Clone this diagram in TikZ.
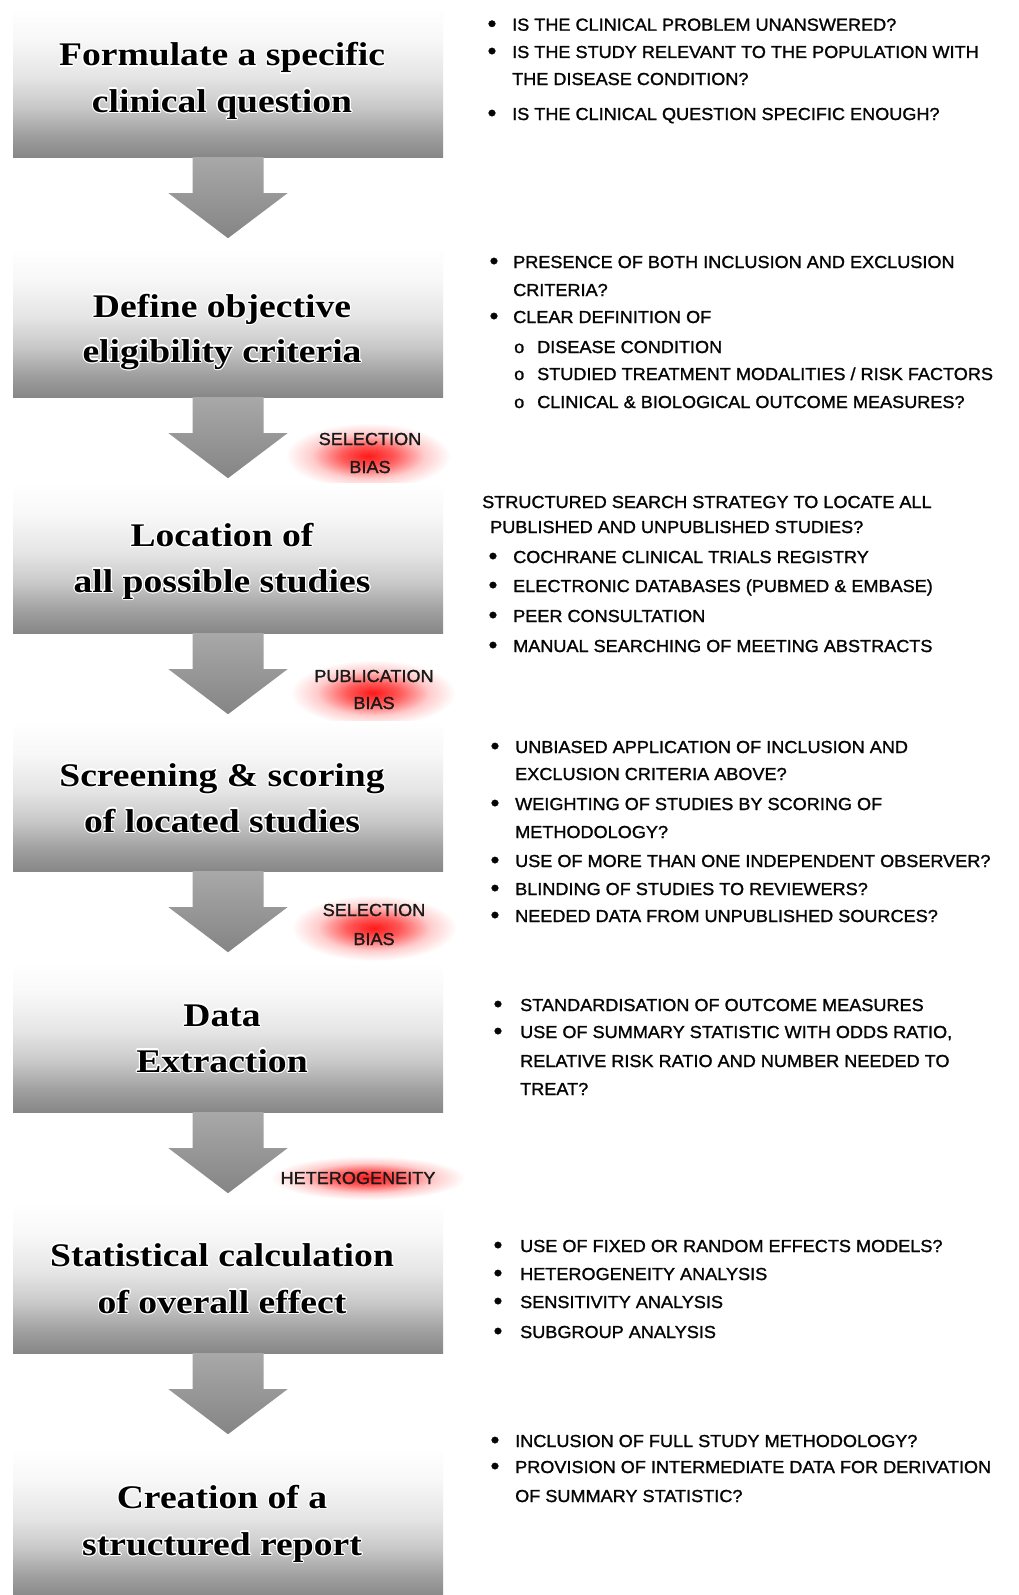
\documentclass[tikz,border=0pt]{standalone}
\usepackage{fontspec}
\usepackage{contour}
\usetikzlibrary{calc,shapes.geometric}
\newfontfamily\titlefont[FakeStretch=1.14]{Liberation Serif}
\newfontfamily\notefont[FakeStretch=1.04,FakeBold=1.3]{Liberation Sans}
\contourlength{1.1pt}
\contournumber{16}
\definecolor{bx0}{gray}{0.53}
\definecolor{bx1}{gray}{0.62}
\definecolor{bx2}{gray}{0.79}
\definecolor{bx3}{gray}{0.90}
\definecolor{bx4}{gray}{0.97}
\definecolor{bx5}{gray}{1.0}
\definecolor{ar1}{gray}{0.66}
\definecolor{ar2}{gray}{0.52}
\definecolor{gl0}{rgb}{1,0.1,0.1}
\definecolor{gl1}{rgb}{1,0.35,0.35}
\definecolor{gl2}{rgb}{1,0.8,0.8}
\definecolor{notecol}{gray}{0.02}
\pgfdeclareverticalshading{boxshade}{100bp}{color(0bp)=(bx0); color(25bp)=(bx0); color(32bp)=(bx1); color(42bp)=(bx2); color(52bp)=(bx3); color(64bp)=(bx4); color(75bp)=(bx5); color(100bp)=(bx5)}
\pgfdeclareradialshading{glowshade}{\pgfpoint{0bp}{0bp}}{color(0bp)=(gl0); color(8bp)=(gl1); color(17bp)=(gl2); color(25bp)=(white); color(50bp)=(white)}
\tikzset{
  box/.style={rectangle, shade, shading=boxshade, minimum width=430pt, minimum height=150pt, inner sep=0pt, draw=none},
  title/.style={font=\titlefont\bfseries\fontsize{33}{40}\selectfont, anchor=base, inner sep=0pt, text=black},
  note/.style={font=\notefont\fontsize{17.4}{20}\selectfont, anchor=base west, inner sep=0pt, text=notecol},
  bul/.style={font=\notefont\fontsize{24}{20}\selectfont, anchor=base, inner sep=0pt, text=notecol, yshift=-1pt},
  bias/.style={font=\notefont\fontsize{17.4}{20}\selectfont, anchor=base, inner sep=0pt, text=black!90},
  glow/.style={ellipse, shade, shading=glowshade, inner sep=0pt, draw=none},
  barrow/.style={top color=ar1, bottom color=ar2, draw=none}
}
\newcommand\blockarrow[1]{%
  \shade[barrow] ($(#1.south)+(-35.5,0)$) -- ($(#1.south)+(35.5,0)$) -- ($(#1.south)+(35.5,36)$) -- ($(#1.south)+(59.5,36)$) -- ($(#1.south)+(0,81)$) -- ($(#1.south)+(-59.5,36)$) -- ($(#1.south)+(-35.5,36)$) -- cycle;}
\begin{document}
\begin{tikzpicture}[x=1pt,y=-1pt]
\fill[white] (0,0) rectangle (1019,1595);
\useasboundingbox (0,0) rectangle (1019,1595);
% glows
\node[glow, minimum width=165pt, minimum height=66pt] (g1) at (368,456) {};
\node[glow, minimum width=165pt, minimum height=66pt] (g2) at (373,693) {};
\node[glow, minimum width=165pt, minimum height=66pt] (g3) at (374,928) {};
\node[glow, minimum width=195pt, minimum height=44pt] (g4) at (368,1178) {};
% boxes
\node[box] (b1) at (228,82) {};
\node[box] (b2) at (228,322) {};
\node[box] (b3) at (228,558) {};
\node[box] (b4) at (228,796) {};
\node[box] (b5) at (228,1037) {};
\node[box] (b6) at (228,1278) {};
\node[box] (b7) at (228,1523) {};
% arrows
\blockarrow{b1}
\blockarrow{b2}
\blockarrow{b3}
\blockarrow{b4}
\blockarrow{b5}
\blockarrow{b6}
% titles
\node[title] (t1a) at (222,66) {\contour{white}{Formulate a specific}};
\node[title] (t1b) at (222,112) {\contour{white}{clinical question}};
\node[title] (t2a) at (222,317) {\contour{white}{Define objective}};
\node[title] (t2b) at (222,362) {\contour{white}{eligibility criteria}};
\node[title] (t3a) at (222,546) {\contour{white}{Location of}};
\node[title] (t3b) at (222,592) {\contour{white}{all possible studies}};
\node[title] (t4a) at (222,786) {\contour{white}{Screening \& scoring}};
\node[title] (t4b) at (222,832) {\contour{white}{of located studies}};
\node[title] (t5a) at (222,1026) {\contour{white}{Data}};
\node[title] (t5b) at (222,1072) {\contour{white}{Extraction}};
\node[title] (t6a) at (222,1266) {\contour{white}{Statistical calculation}};
\node[title] (t6b) at (222,1313) {\contour{white}{of overall effect}};
\node[title] (t7a) at (222,1508) {\contour{white}{Creation of a}};
\node[title] (t7b) at (222,1555) {\contour{white}{structured report}};
% bias labels
\node[bias] (l1a) at (370,445) {SELECTION};
\node[bias] (l1b) at (370,473) {BIAS};
\node[bias] (l2a) at (374,682) {PUBLICATION};
\node[bias] (l2b) at (374,709) {BIAS};
\node[bias] (l3a) at (374,916) {SELECTION};
\node[bias] (l3b) at (374,945) {BIAS};
\node[bias] (l4a) at (358,1184) {HETEROGENEITY};
% section 1
\node[bul] (s1u1) at (492,30.7) {•};
\node[note] (s1n1) at (512,30.7) {IS THE CLINICAL PROBLEM UNANSWERED?};
\node[bul] (s1u2) at (492,58) {•};
\node[note] (s1n2) at (512,58) {IS THE STUDY RELEVANT TO THE POPULATION WITH};
\node[note] (s1n3) at (512,85) {THE DISEASE CONDITION?};
\node[bul] (s1u4) at (492,120) {•};
\node[note] (s1n4) at (512,120) {IS THE CLINICAL QUESTION SPECIFIC ENOUGH?};
% section 2
\node[bul] (s2u1) at (494,268) {•};
\node[note] (s2n1) at (513,268) {PRESENCE OF BOTH INCLUSION AND EXCLUSION};
\node[note] (s2n2) at (513,296) {CRITERIA?};
\node[bul] (s2u3) at (494,323) {•};
\node[note] (s2n3) at (513,323) {CLEAR DEFINITION OF};
\node[note] (s2o4) at (514,353) {o};
\node[note] (s2n4) at (537,353) {DISEASE CONDITION};
\node[note] (s2o5) at (514,380) {o};
\node[note] (s2n5) at (537,380) {STUDIED TREATMENT MODALITIES / RISK FACTORS};
\node[note] (s2o6) at (514,408) {o};
\node[note] (s2n6) at (537,408) {CLINICAL \& BIOLOGICAL OUTCOME MEASURES?};
% section 3
\node[note] (s3n1) at (482,508) {STRUCTURED SEARCH STRATEGY TO LOCATE ALL};
\node[note] (s3n2) at (490,533) {PUBLISHED AND UNPUBLISHED STUDIES?};
\node[bul] (s3u3) at (493,563) {•};
\node[note] (s3n3) at (513,563) {COCHRANE CLINICAL TRIALS REGISTRY};
\node[bul] (s3u4) at (493,592) {•};
\node[note] (s3n4) at (513,592) {ELECTRONIC DATABASES (PUBMED \& EMBASE)};
\node[bul] (s3u5) at (493,622) {•};
\node[note] (s3n5) at (513,622) {PEER CONSULTATION};
\node[bul] (s3u6) at (493,652) {•};
\node[note] (s3n6) at (513,652) {MANUAL SEARCHING OF MEETING ABSTRACTS};
% section 4
\node[bul] (s4u1) at (495,753) {•};
\node[note] (s4n1) at (515,753) {UNBIASED APPLICATION OF INCLUSION AND};
\node[note] (s4n2) at (515,780) {EXCLUSION CRITERIA ABOVE?};
\node[bul] (s4u3) at (495,810) {•};
\node[note] (s4n3) at (515,810) {WEIGHTING OF STUDIES BY SCORING OF};
\node[note] (s4n4) at (515,838) {METHODOLOGY?};
\node[bul] (s4u5) at (495,867) {•};
\node[note] (s4n5) at (515,867) {USE OF MORE THAN ONE INDEPENDENT OBSERVER?};
\node[bul] (s4u6) at (495,895) {•};
\node[note] (s4n6) at (515,895) {BLINDING OF STUDIES TO REVIEWERS?};
\node[bul] (s4u7) at (495,922) {•};
\node[note] (s4n7) at (515,922) {NEEDED DATA FROM UNPUBLISHED SOURCES?};
% section 5
\node[bul] (s5u1) at (498,1011) {•};
\node[note] (s5n1) at (520,1011) {STANDARDISATION OF OUTCOME MEASURES};
\node[bul] (s5u2) at (498,1038) {•};
\node[note] (s5n2) at (520,1038) {USE OF SUMMARY STATISTIC WITH ODDS RATIO,};
\node[note] (s5n3) at (520,1067) {RELATIVE RISK RATIO AND NUMBER NEEDED TO};
\node[note] (s5n4) at (520,1095) {TREAT?};
% section 6
\node[bul] (s6u1) at (498,1252) {•};
\node[note] (s6n1) at (520,1252) {USE OF FIXED OR RANDOM EFFECTS MODELS?};
\node[bul] (s6u2) at (498,1280) {•};
\node[note] (s6n2) at (520,1280) {HETEROGENEITY ANALYSIS};
\node[bul] (s6u3) at (498,1308) {•};
\node[note] (s6n3) at (520,1308) {SENSITIVITY ANALYSIS};
\node[bul] (s6u4) at (498,1338) {•};
\node[note] (s6n4) at (520,1338) {SUBGROUP ANALYSIS};
% section 7
\node[bul] (s7u1) at (495,1447) {•};
\node[note] (s7n1) at (515,1447) {INCLUSION OF FULL STUDY METHODOLOGY?};
\node[bul] (s7u2) at (495,1473) {•};
\node[note] (s7n2) at (515,1473) {PROVISION OF INTERMEDIATE DATA FOR DERIVATION};
\node[note] (s7n3) at (515,1502) {OF SUMMARY STATISTIC?};
\end{tikzpicture}
\end{document}
